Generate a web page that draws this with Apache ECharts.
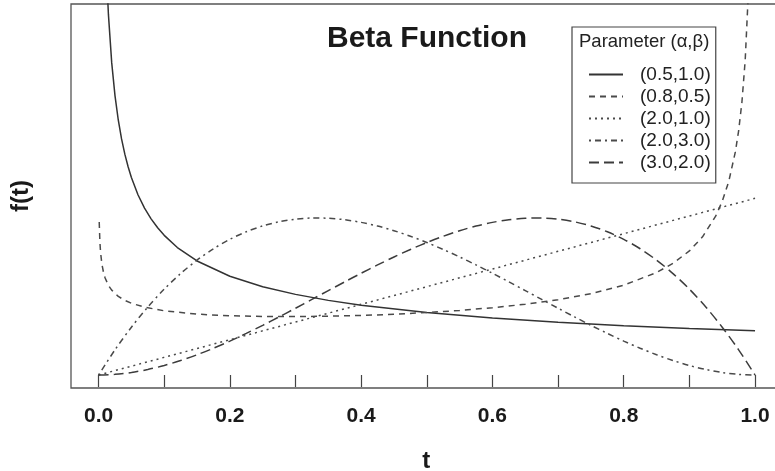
<!DOCTYPE html>
<html>
<head>
<meta charset="utf-8">
<script src="https://cdn.jsdelivr.net/npm/echarts@6/dist/echarts.min.js"></script>
<style>
html,body{margin:0;padding:0;background:#fff;}
#chart{width:775px;height:471px;}
</style>
</head>
<body>
<div id="chart"></div>
<script>
// ---- data ----
const seriesNames = ["(0.5,1.0)", "(0.8,0.5)", "(2.0,1.0)", "(2.0,3.0)", "(3.0,2.0)"];
const xTickValues = [0, 0.1, 0.2, 0.3, 0.4, 0.5, 0.6, 0.7, 0.8, 0.9, 1.0];
const xLabelValues = [0, 0.2, 0.4, 0.6, 0.8, 1.0];

const tA = [0.012, 0.015, 0.02, 0.025, 0.03, 0.035, 0.04, 0.045, 0.05, 0.06, 0.07, 0.08, 0.09, 0.1, 0.12, 0.15, 0.2, 0.25, 0.3, 0.35, 0.4, 0.5, 0.6, 0.7, 0.8, 0.9, 1.0];
const beta05_10 = [4.564, 4.082, 3.536, 3.162, 2.887, 2.673, 2.5, 2.357, 2.236, 2.041, 1.890, 1.768, 1.667, 1.581, 1.443, 1.291, 1.118, 1.0, 0.913, 0.845, 0.791, 0.707, 0.645, 0.598, 0.559, 0.527, 0.5];

const tB = [0.001, 0.002, 0.003, 0.005, 0.0075, 0.01, 0.015, 0.02, 0.03, 0.04, 0.05, 0.07, 0.1, 0.15, 0.2, 0.25, 0.3, 0.35, 0.4, 0.45, 0.5, 0.55, 0.6, 0.65, 0.7, 0.75, 0.8, 0.85, 0.875, 0.9, 0.92, 0.94, 0.95, 0.96, 0.97, 0.975, 0.98, 0.985, 0.99];
const beta08_05 = [1.732, 1.509, 1.392, 1.258, 1.162, 1.098, 1.015, 0.961, 0.890, 0.845, 0.812, 0.768, 0.727, 0.689, 0.671, 0.663, 0.661, 0.666, 0.674, 0.688, 0.707, 0.731, 0.762, 0.801, 0.853, 0.921, 1.017, 1.160, 1.264, 1.405, 1.564, 1.798, 1.965, 2.192, 2.526, 2.765, 3.088, 3.562, 4.358];

const tLin = [0, 0.1, 0.2, 0.3, 0.4, 0.5, 0.6, 0.7, 0.8, 0.9, 1.0];
const beta20_10 = [0, 0.2, 0.4, 0.6, 0.8, 1.0, 1.2, 1.4, 1.6, 1.8, 2.0];

const tPoly = [0, 0.025, 0.05, 0.075, 0.1, 0.125, 0.15, 0.175, 0.2, 0.225, 0.25, 0.275, 0.3, 0.325, 0.35, 0.375, 0.4, 0.425, 0.45, 0.475, 0.5, 0.525, 0.55, 0.575, 0.6, 0.625, 0.65, 0.675, 0.7, 0.725, 0.75, 0.775, 0.8, 0.825, 0.85, 0.875, 0.9, 0.925, 0.95, 0.975, 1.0];
const beta20_30 = [0, 0.2852, 0.5415, 0.7701, 0.972, 1.1484, 1.3005, 1.4293, 1.536, 1.6217, 1.6875, 1.7346, 1.764, 1.7769, 1.7745, 1.7578, 1.728, 1.6862, 1.6335, 1.5711, 1.5, 1.4214, 1.3365, 1.2463, 1.152, 1.0547, 0.9555, 0.8556, 0.756, 0.6579, 0.5625, 0.4708, 0.384, 0.3032, 0.2295, 0.1641, 0.108, 0.0624, 0.0285, 0.0073, 0];
const beta30_20 = [0, 0.0073, 0.0285, 0.0624, 0.108, 0.1641, 0.2295, 0.3032, 0.384, 0.4708, 0.5625, 0.6579, 0.756, 0.8556, 0.9555, 1.0547, 1.152, 1.2463, 1.3365, 1.4214, 1.5, 1.5711, 1.6335, 1.6862, 1.728, 1.7578, 1.7745, 1.7769, 1.764, 1.7346, 1.6875, 1.6217, 1.536, 1.4293, 1.3005, 1.1484, 0.972, 0.7701, 0.5415, 0.2852, 0];

// ---- chart ----
const FONT = '"Liberation Sans", Arial, Helvetica, sans-serif';
const zip = (xs, ys) => xs.map((x, i) => [x, ys[i]]);

function lineSeries(name, xs, ys, color, type, smooth) {
  return {
    name: name,
    type: 'line',
    data: zip(xs, ys),
    symbol: 'none',
    showSymbol: false,
    smooth: smooth,
    clip: true,
    lineStyle: { color: color, width: 1.5, type: type },
    itemStyle: { color: color },
    emphasis: { disabled: true },
    silent: true
  };
}

const chart = echarts.init(document.getElementById('chart'), null, { renderer: 'canvas' });
chart.setOption({
  animation: false,
  backgroundColor: '#ffffff',
  title: [
    {
      text: 'Beta Function',
      left: 427, top: 24, padding: 0,
      textAlign: 'center',
      textStyle: { fontFamily: FONT, fontSize: 30, fontWeight: 'bold', color: '#1a1a1a' }
    },
    {
      text: 'Parameter (α,β)',
      left: 579, top: 32, padding: 0,
      textStyle: { fontFamily: FONT, fontSize: 18.5, fontWeight: 'normal', color: '#222' }
    }
  ],
  legend: {
    orient: 'vertical',
    left: 572, top: 27,
    padding: [38, 5, 11, 16],
    itemWidth: 34, itemHeight: 18, itemGap: 3,
    borderColor: '#444', borderWidth: 1.2,
    selectedMode: false,
    data: seriesNames,
    itemStyle: { opacity: 0, borderWidth: 0 },
    textStyle: { fontFamily: FONT, fontSize: 19, color: '#222', padding: [0, 0, 0, 12], lineHeight: 18 }
  },
  grid: {
    show: true, left: 71, width: 710.3, top: 4, bottom: 83,
    outerBoundsMode: 'none',
    borderColor: '#555', borderWidth: 1.3, backgroundColor: 'transparent',
    containLabel: false
  },
  xAxis: {
    type: 'value', min: -0.042, max: 1.04,
    name: 't', nameLocation: 'middle', nameGap: 61,
    nameTextStyle: { fontFamily: FONT, fontSize: 24, fontWeight: 'bold', color: '#1a1a1a' },
    axisLine: { show: false },
    splitLine: { show: false },
    axisTick: { show: true, length: 12, inside: false, customValues: xTickValues, lineStyle: { color: '#444', width: 1.2 } },
    axisLabel: {
      show: true, margin: 18, customValues: xLabelValues,
      fontFamily: FONT, fontSize: 21, fontWeight: 'bold', color: '#1a1a1a',
      formatter: v => v.toFixed(1)
    }
  },
  yAxis: {
    type: 'value', min: -0.147, max: 4.2,
    name: 'f(t)', nameLocation: 'middle', nameGap: 38,
    nameTextStyle: { fontFamily: FONT, fontSize: 24, fontWeight: 'bold', color: '#1a1a1a' },
    axisLine: { show: false }, axisTick: { show: false }, axisLabel: { show: false },
    splitLine: { show: false }
  },
  series: [
    lineSeries(seriesNames[0], tA, beta05_10, '#333', 'solid', false),
    lineSeries(seriesNames[1], tB, beta08_05, '#4a4a4a', [6, 5], false),
    lineSeries(seriesNames[2], tLin, beta20_10, '#4a4a4a', [2, 4], false),
    lineSeries(seriesNames[3], tPoly, beta20_30, '#4a4a4a', [2, 4, 6, 4], 0.3),
    lineSeries(seriesNames[4], tPoly, beta30_20, '#3c3c3c', [10, 5], 0.3)
  ]
});
</script>
</body>
</html>
